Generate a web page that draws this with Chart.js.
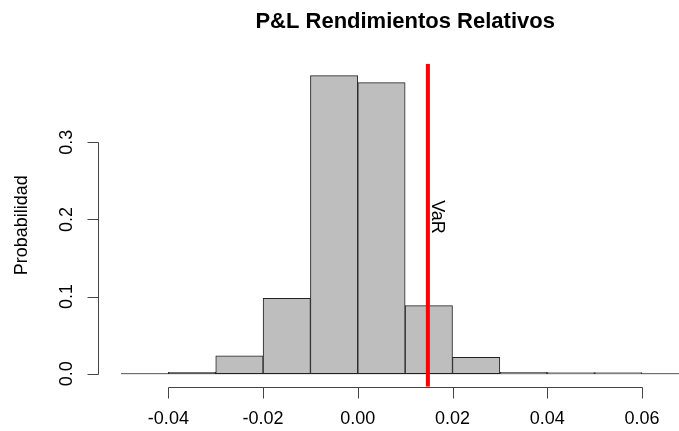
<!DOCTYPE html>
<html>
<head>
<meta charset="utf-8">
<title>P&amp;L Rendimientos Relativos</title>
<script src="https://cdn.jsdelivr.net/npm/chart.js@4/dist/chart.umd.min.js"></script>
<style>
  html, body { margin: 0; padding: 0; background: #fff; overflow: hidden; }
  /* plot region runs a little past the right edge of the window, as in base R */
  #wrap { width: 712px; height: 431px; position: relative; }
</style>
</head>
<body>
<div id="wrap"><canvas id="chart"></canvas></div>
<script>
// histogram bins (left edges) and relative frequency of each bin
const binStarts = [-0.04, -0.03, -0.02, -0.01, 0.00, 0.01, 0.02, 0.03, 0.04, 0.05];
const binWidth = 0.01;
const probs = [0.0018, 0.023, 0.0978, 0.3865, 0.3774, 0.0882, 0.0213, 0.0016, 0.0015, 0.0015];

const xTicks = [-0.04, -0.02, 0.00, 0.02, 0.04, 0.06];
const xTickLabels = ['-0.04', '-0.02', '0.00', '0.02', '0.04', '0.06'];
const yTicks = [0.0, 0.1, 0.2, 0.3];
const yTickLabels = ['0.0', '0.1', '0.2', '0.3'];

const xLim = [-0.05, 0.07];
const yRange = [-0.0169, 0.402];

const valueAtRisk = 0.0148;
const varLabelY = 0.225;

const FONT = "'Liberation Sans', Arial, sans-serif";

const histPts = binStarts.map((s, i) => ({ x: s + binWidth / 2, y: probs[i] }));
const xPad = (xLim[1] - xLim[0]) * 0.04;

// R-style axes, labels and title drawn on top of the chart
const rAxesPlugin = {
  id: 'rAxes',
  afterDraw(chart) {
    const { ctx, chartArea } = chart;
    const xs = chart.scales.x, ys = chart.scales.y;
    const tick = 11;
    ctx.save();
    ctx.strokeStyle = '#444';
    ctx.lineWidth = 1;
    ctx.fillStyle = '#000';

    // x axis: line spans first..last tick
    const ay = Math.round(chartArea.bottom) + 0.5;
    const x0 = Math.round(xs.getPixelForValue(xTicks[0])) + 0.5;
    const x1 = Math.round(xs.getPixelForValue(xTicks[xTicks.length - 1])) + 0.5;
    ctx.beginPath();
    ctx.moveTo(x0, ay); ctx.lineTo(x1, ay);
    xTicks.forEach(v => {
      const px = Math.round(xs.getPixelForValue(v)) + 0.5;
      ctx.moveTo(px, ay); ctx.lineTo(px, ay + tick);
    });
    ctx.stroke();
    ctx.font = '18px ' + FONT;
    ctx.textAlign = 'center';
    ctx.textBaseline = 'alphabetic';
    xTicks.forEach((v, i) => {
      ctx.fillText(xTickLabels[i], xs.getPixelForValue(v), ay + 36.5);
    });

    // y axis
    const ax = Math.round(chartArea.left) + 0.5;
    const y0 = Math.round(ys.getPixelForValue(yTicks[0])) + 0.5;
    const y1 = Math.round(ys.getPixelForValue(yTicks[yTicks.length - 1])) + 0.5;
    ctx.beginPath();
    ctx.moveTo(ax, y0); ctx.lineTo(ax, y1);
    yTicks.forEach(v => {
      const py = Math.round(ys.getPixelForValue(v)) + 0.5;
      ctx.moveTo(ax, py); ctx.lineTo(ax - tick, py);
    });
    ctx.stroke();
    yTicks.forEach((v, i) => {
      ctx.save();
      ctx.translate(ax - 26.5, ys.getPixelForValue(v));
      ctx.rotate(-Math.PI / 2);
      ctx.fillText(yTickLabels[i], 0, 0);
      ctx.restore();
    });

    // y axis title
    ctx.save();
    ctx.translate(27, (chartArea.top + chartArea.bottom) / 2);
    ctx.rotate(-Math.PI / 2);
    ctx.fillText('Probabilidad', 0, 0);
    ctx.restore();

    // VaR label beside the red line
    ctx.save();
    ctx.translate(xs.getPixelForValue(valueAtRisk) + 4.5, ys.getPixelForValue(varLabelY));
    ctx.rotate(Math.PI / 2);
    ctx.textAlign = 'left';
    ctx.fillText('VaR', 0, 0);
    ctx.restore();

    // main title, centred on the plot range
    ctx.font = 'bold 22px ' + FONT;
    ctx.textAlign = 'center';
    ctx.fillText('P&L Rendimientos Relativos', xs.getPixelForValue((xLim[0] + xLim[1]) / 2), 28);
    ctx.restore();
  }
};

new Chart(document.getElementById('chart'), {
  type: 'bar',
  data: {
    datasets: [
      {
        type: 'line',
        label: 'VaR',
        data: [{ x: valueAtRisk, y: yRange[0] }, { x: valueAtRisk, y: yRange[1] }],
        borderColor: '#ff0000',
        borderWidth: 4,
        pointRadius: 0,
        order: 0
      },
      {
        label: 'Probabilidad',
        data: histPts,
        backgroundColor: '#bebebe',
        borderColor: '#222222',
        borderWidth: 1,
        borderSkipped: false,
        barPercentage: 1,
        categoryPercentage: 1,
        order: 1
      },
      {
        type: 'line',
        label: 'base',
        data: [{ x: xLim[0], y: 0 }, { x: xLim[1], y: 0 }],
        borderColor: '#555555',
        borderWidth: 1,
        pointRadius: 0,
        order: 2
      }
    ]
  },
  options: {
    responsive: true,
    maintainAspectRatio: false,
    animation: false,
    layout: { padding: { left: 98.3, top: 63.7, right: 0, bottom: 44.3 } },
    scales: {
      x: { type: 'linear', display: false, offset: false, min: xLim[0] - xPad, max: xLim[1] + xPad },
      y: { type: 'linear', display: false, min: yRange[0], max: yRange[1] }
    },
    plugins: {
      legend: { display: false },
      tooltip: { enabled: false }
    }
  },
  plugins: [rAxesPlugin]
});
</script>
</body>
</html>
